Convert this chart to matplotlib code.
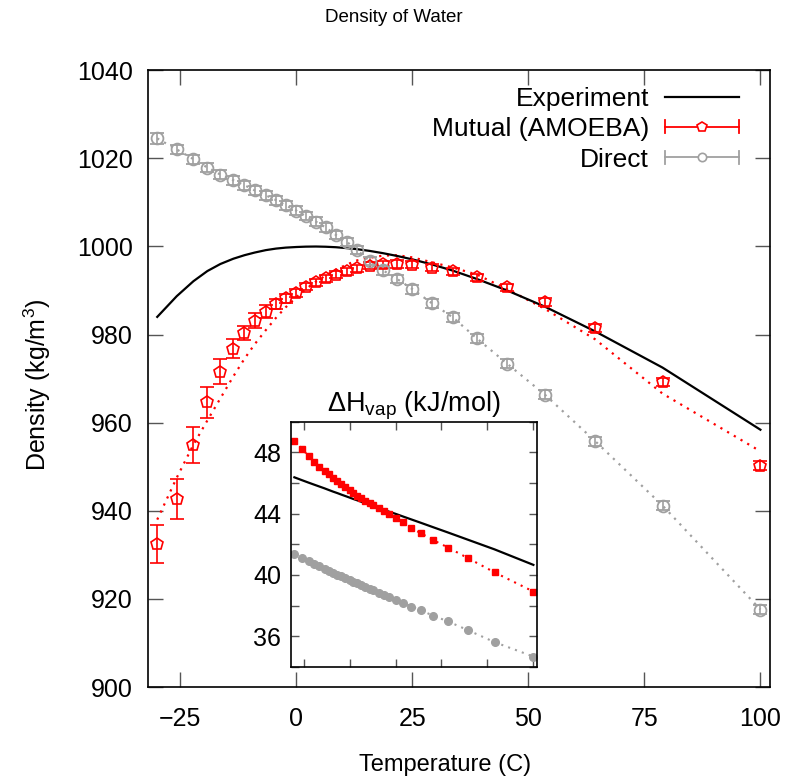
import matplotlib
matplotlib.use('Agg')
import matplotlib.pyplot as plt
from matplotlib.lines import Line2D
from matplotlib.legend_handler import HandlerBase

plt.rcParams['font.family'] = ['Liberation Sans', 'DejaVu Sans']
plt.rcParams['mathtext.default'] = 'regular'

# temperatures (C) of the simulations
temps = [-30, -25.8, -22.2, -19.2, -16.4, -13.6, -11.2, -9.0, -6.6, -4.4,
         -2.3, 0.0, 2.0, 4.2, 6.3, 8.5, 10.9, 13.0, 15.8, 18.6,
         21.7, 25.0, 29.2, 33.7, 38.9, 45.4, 53.6, 64.4, 78.9, 100.0]

# density (kg/m3)
rho_exp = [984.0, 988.7, 992.1, 994.4, 996.0, 997.2, 998.0, 998.6, 999.15, 999.5,
           999.72, 999.86, 999.94, 999.97, 999.92, 999.81, 999.6, 999.38, 998.97, 998.47,
           997.83, 997.05, 995.9, 994.5, 992.6, 990.0, 986.3, 980.7, 972.5, 958.4]
rho_mut = [932.4, 942.7, 955.0, 964.6, 971.6, 976.8, 980.3, 983.1, 985.2, 986.9,
           988.2, 989.5, 990.8, 991.9, 992.8, 993.6, 994.4, 995.0, 995.6, 995.9,
           996.0, 995.8, 995.2, 994.4, 993.0, 990.7, 987.3, 981.5, 969.3, 950.2]
err_mut = [4.3, 4.5, 4.1, 3.5, 2.8, 2.2, 1.6, 1.7, 1.4, 1.2,
           1.0, 0.9, 0.8, 0.8, 0.8, 0.8, 0.8, 0.8, 0.8, 0.8,
           0.8, 0.8, 0.8, 0.8, 0.8, 0.8, 0.9, 0.9, 0.9, 1.0]
rho_mut_fit = [938.0, 947.5, 955.0, 960.5, 965.5, 970.5, 974.5, 977.8, 981.0, 983.8,
               986.2, 988.5, 990.3, 992.0, 993.4, 994.7, 995.9, 996.8, 997.4, 997.9,
               998.0, 997.5, 996.4, 995.2, 993.6, 990.3, 985.8, 978.9, 966.6, 953.5]
rho_dir = [1024.5, 1022.0, 1019.8, 1017.9, 1016.3, 1015.0, 1013.9, 1012.7, 1011.6, 1010.5,
           1009.3, 1008.1, 1006.9, 1005.6, 1004.3, 1002.6, 1001.0, 999.2, 996.7, 994.6,
           992.6, 990.3, 987.1, 983.9, 979.1, 973.4, 966.3, 955.8, 941.2, 917.6]
err_dir = [1.3, 1.0, 1.0, 1.0, 1.0, 1.0, 1.0, 1.0, 1.0, 1.0,
           1.0, 1.0, 1.0, 1.0, 1.0, 1.0, 1.0, 1.0, 1.0, 1.0,
           1.0, 1.0, 1.0, 1.0, 1.0, 1.0, 1.0, 1.0, 1.0, 1.0]

# heat of vaporization (kJ/mol), inset
hv_exp = [46.37, 46.18, 46.02, 45.89, 45.77, 45.65, 45.54, 45.44, 45.34, 45.24,
          45.15, 45.05, 44.96, 44.87, 44.78, 44.68, 44.58, 44.49, 44.37, 44.25,
          44.12, 43.99, 43.81, 43.62, 43.40, 43.12, 42.77, 42.30, 41.67, 40.66]
hv_mut = [48.71, 48.23, 47.74, 47.36, 47.07, 46.78, 46.56, 46.34, 46.10, 45.91,
          45.74, 45.56, 45.37, 45.18, 45.02, 44.85, 44.70, 44.54, 44.36, 44.18,
          43.95, 43.71, 43.43, 43.05, 42.72, 42.28, 41.79, 41.10, 40.17, 38.92]
hv_dir = [41.38, 41.12, 40.92, 40.73, 40.56, 40.40, 40.27, 40.15, 40.03, 39.91,
          39.80, 39.68, 39.57, 39.46, 39.35, 39.23, 39.11, 38.99, 38.85, 38.71,
          38.54, 38.37, 38.18, 37.94, 37.69, 37.35, 36.97, 36.40, 35.62, 34.68]

RED = '#ff0000'
GRAY = '#a0a0a0'
dots = (0, (1, 2.5))


class HErrHandler(HandlerBase):
    # gnuplot-like key: horizontal bar with end caps and a marker in the middle
    def __init__(self, color, marker, ms):
        super().__init__()
        self.color, self.marker, self.ms = color, marker, ms

    def create_artists(self, legend, orig_handle, xdescent, ydescent,
                       width, height, fontsize, trans):
        y = height / 2 - ydescent
        x0, x1 = -xdescent, width - xdescent
        h = height * 0.35
        arts = [Line2D([x0, x1], [y, y], color=self.color, lw=1.3),
                Line2D([x0, x0], [y - h, y + h], color=self.color, lw=1.3),
                Line2D([x1, x1], [y - h, y + h], color=self.color, lw=1.3),
                Line2D([(x0 + x1) / 2], [y], marker=self.marker, ms=self.ms,
                       mfc='white', mec=self.color, mew=1.2, ls='none')]
        for a in arts:
            a.set_transform(trans)
        return arts


fig = plt.figure(figsize=(7.87, 7.79), dpi=100)
ax = fig.add_axes([0.188, 0.118, 0.790, 0.792])

ax.plot(temps, rho_mut_fit, color=RED, lw=1.6, ls=dots)
ax.plot(temps, rho_dir, color=GRAY, lw=1.6, ls=dots)
ax.plot(temps, rho_exp, color='black', lw=1.6)
ax.errorbar(temps, rho_mut, yerr=err_mut, fmt='p', ms=9, mfc='none', mec=RED, mew=1.2,
            ecolor=RED, elinewidth=1.2, capsize=5, capthick=1.2)
ax.errorbar(temps, rho_dir, yerr=err_dir, fmt='o', ms=8.5, mfc='none', mec=GRAY, mew=1.3,
            ecolor=GRAY, elinewidth=1.2, capsize=5, capthick=1.2)

ax.set_xlim(-32, 102)
ax.set_ylim(900, 1040)
ax.set_xticks([-25, 0, 25, 50, 75, 100])
ax.set_yticks(range(900, 1041, 20))
ax.tick_params(direction='in', length=11, width=1, color='#555555', labelsize=18,
               top=True, right=True)
ax.tick_params(axis='y', pad=11)
ax.tick_params(axis='x', pad=14)
for s in ax.spines.values():
    s.set_linewidth(1.2)

fig.text(0.5, 1 - 18 / 779, 'Density of Water', ha='center', va='center', fontsize=13.5)
fig.text(445 / 787, 1 - 765 / 779, 'Temperature (C)', ha='center', va='center', fontsize=17)
fig.text(37 / 787, 1 - 385 / 779, 'Density (kg/m$^3$)', ha='center', va='center',
         rotation=90, fontsize=18)

p_exp = Line2D([], [], color='black', lw=1.6)
p_mut = Line2D([], [], color=RED)
p_dir = Line2D([], [], color=GRAY)
ax.legend([p_exp, p_mut, p_dir], ['Experiment', 'Mutual (AMOEBA)', 'Direct'],
          handler_map={p_mut: HErrHandler(RED, 'p', 7), p_dir: HErrHandler(GRAY, 'o', 6)},
          loc='upper right', bbox_to_anchor=(0.967, 0.99), frameon=False, fontsize=19,
          markerfirst=False, handlelength=2.8, handletextpad=0.6, labelspacing=0.24,
          borderaxespad=0)

# inset: heat of vaporization
axi = fig.add_axes([0.3694, 0.1438, 0.3130, 0.3149])
axi.plot(temps, hv_exp, color='black', lw=1.6)
axi.plot(temps, hv_mut, color=RED, lw=1.5, ls=dots, marker='s', ms=4.5, mec=RED, mfc=RED)
axi.plot(temps, hv_dir, color=GRAY, lw=1.5, ls=dots, marker='o', ms=5.5, mec=GRAY, mfc=GRAY)
axi.set_xlim(-32, 102)
axi.set_ylim(34, 50)
axi.set_xticks([-25, 0, 25, 50, 75, 100])
axi.set_xticklabels([])
axi.set_yticks([36, 40, 44, 48])
axi.set_yticks([34, 38, 42, 46, 50], minor=True)
axi.tick_params(which='both', direction='in', length=6, width=1, color='#555555',
                labelsize=18, top=True, right=True, pad=7)
for s in axi.spines.values():
    s.set_linewidth(1.2)
axi.set_title(r'$\Delta H_{vap}$ (kJ/mol)', fontsize=19.5, pad=7)

fig.savefig('out.png', dpi=100)
